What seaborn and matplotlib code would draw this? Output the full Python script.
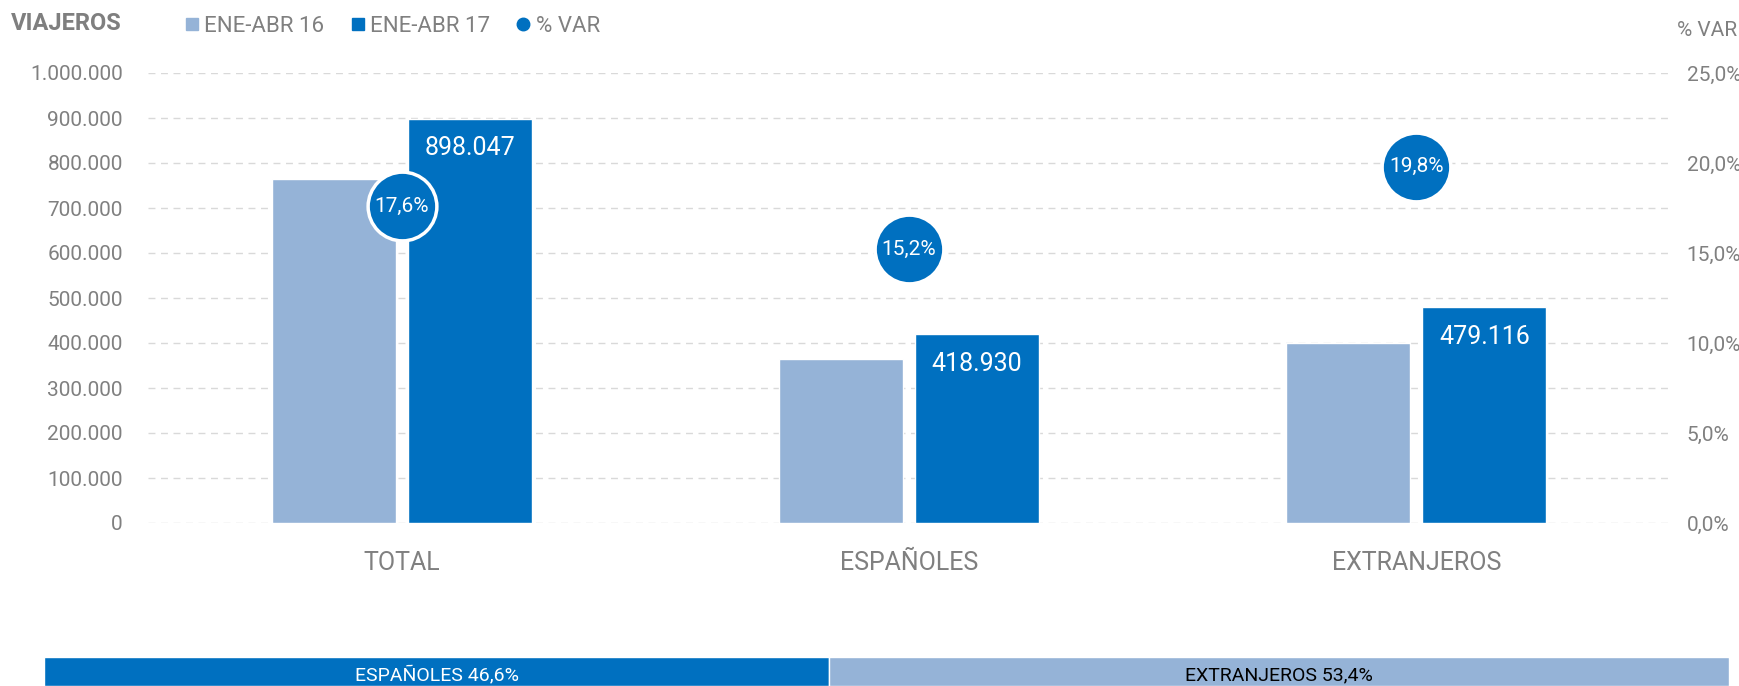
import pandas as pd
import matplotlib.pyplot as plt
import seaborn as sns
from matplotlib.lines import Line2D
from matplotlib.ticker import FuncFormatter, MultipleLocator

# datos
categorias = ['TOTAL', 'ESPAÑOLES', 'EXTRANJEROS']
periodos = ['ENE-ABR 16', 'ENE-ABR 17']
viajeros_16 = [763645, 363655, 399930]
viajeros_17 = [898047, 418930, 479116]
var_pct = [17.6, 15.2, 19.8]
cuota_nombres = ['ESPAÑOLES', 'EXTRANJEROS']
cuota_pct = [46.6, 53.4]

claro = '#95B3D7'
oscuro = '#0070C0'
gris = '#808080'

sns.set_style('white')
plt.rcParams['font.family'] = ['Roboto', 'DejaVu Sans']

df = pd.DataFrame({
    'cat': categorias * 2,
    'periodo': [periodos[0]] * 3 + [periodos[1]] * 3,
    'viajeros': viajeros_16 + viajeros_17,
})
df_var = pd.DataFrame({'cat': categorias, 'var': var_pct})

fig = plt.figure(figsize=(17.4, 6.86), dpi=100)
ax = fig.add_axes([148 / 1740, 163 / 686, 1522 / 1740, 450 / 686])

sns.barplot(data=df, x='cat', y='viajeros', hue='periodo', order=categorias,
            hue_order=periodos, palette=[claro, oscuro], width=0.536, gap=0.09,
            saturation=1, legend=False, ax=ax)

ax.set_ylim(0, 1000000)
ax.set_xlim(-0.5, 2.5)
ax.yaxis.set_major_locator(MultipleLocator(100000))
ax.yaxis.set_major_formatter(FuncFormatter(lambda v, p: f'{int(v):,}'.replace(',', '.')))
ax.grid(axis='y', color='#D9D9D9', linestyle=(0, (5, 4)), linewidth=1)
ax.set_axisbelow(True)
for s in ax.spines.values():
    s.set_visible(False)
ax.tick_params(axis='y', labelsize=15, labelcolor=gris, length=0, pad=18)
ax.tick_params(axis='x', labelsize=18, labelcolor=gris, length=0, pad=20)
ax.set_xlabel('')
ax.set_ylabel('')

# etiquetas dentro de las barras oscuras
for barra in ax.containers[1]:
    h = barra.get_height()
    ax.annotate(f'{int(h):,}'.replace(',', '.'), (barra.get_x() + barra.get_width() / 2, h),
                xytext=(0, -21), textcoords='offset points', ha='center', va='center',
                color='white', fontsize=18)

# eje derecho con % VAR
ax2 = ax.twinx()
sns.scatterplot(data=df_var, x='cat', y='var', s=2450, color=oscuro,
                edgecolor='white', linewidth=2.5, zorder=5, legend=False, ax=ax2)
ax2.set_ylim(0, 25)
ax2.set_xlim(-0.5, 2.5)
ax2.yaxis.set_major_locator(MultipleLocator(5))
ax2.yaxis.set_major_formatter(FuncFormatter(lambda v, p: f'{v:.1f}%'.replace('.', ',')))
ax2.tick_params(axis='y', labelsize=15, labelcolor=gris, length=0, pad=12)
ax2.set_ylabel('')
ax2.set_xlabel('')
for s in ax2.spines.values():
    s.set_visible(False)
ax2.grid(False)
for i, v in enumerate(var_pct):
    ax2.text(i, v, f'{v:.1f}%'.replace('.', ','), ha='center', va='center',
             color='white', fontsize=15, zorder=6)

# cabecera y leyenda
fig.text(11 / 1740, 1 - 24 / 686, 'VIAJEROS', fontsize=17, fontweight='bold',
         color='#7F7F7F', va='center', ha='left')
fig.text(1737 / 1740, 1 - 30 / 686, '% VAR', fontsize=15, color=gris,
         va='center', ha='right')
handles = [
    Line2D([], [], marker='s', linestyle='', color=claro, markersize=9),
    Line2D([], [], marker='s', linestyle='', color=oscuro, markersize=9),
    Line2D([], [], marker='o', linestyle='', color=oscuro, markersize=9),
]
leg = fig.legend(handles, periodos + ['% VAR'], loc='center left',
                 bbox_to_anchor=(172 / 1740, 1 - 26 / 686), ncol=3, frameon=False,
                 fontsize=16, handletextpad=0.05, columnspacing=1.0, handlelength=1.0,
                 borderaxespad=0)
for t in leg.get_texts():
    t.set_color(gris)

# barra inferior de cuotas
axc = fig.add_axes([44 / 1740, 0, 1685 / 1740, 29 / 686])
cuota_df = pd.DataFrame({'nombre': cuota_nombres, 'pct': cuota_pct})
axc.barh([0], cuota_df['pct'][0], color=oscuro, height=1)
axc.barh([0], cuota_df['pct'][1], left=cuota_df['pct'][0], color=claro, height=1)
axc.set_xlim(0, 100)
axc.set_ylim(-0.5, 0.5)
axc.axis('off')
izq = 0
for nombre, p, col in zip(cuota_nombres, cuota_pct, ['white', 'black']):
    axc.text(izq + p / 2, -0.12, f'{nombre} {p:.1f}%'.replace('.', ','),
             ha='center', va='center', color=col, fontsize=14)
    izq += p

fig.savefig('out.png', dpi=100)
